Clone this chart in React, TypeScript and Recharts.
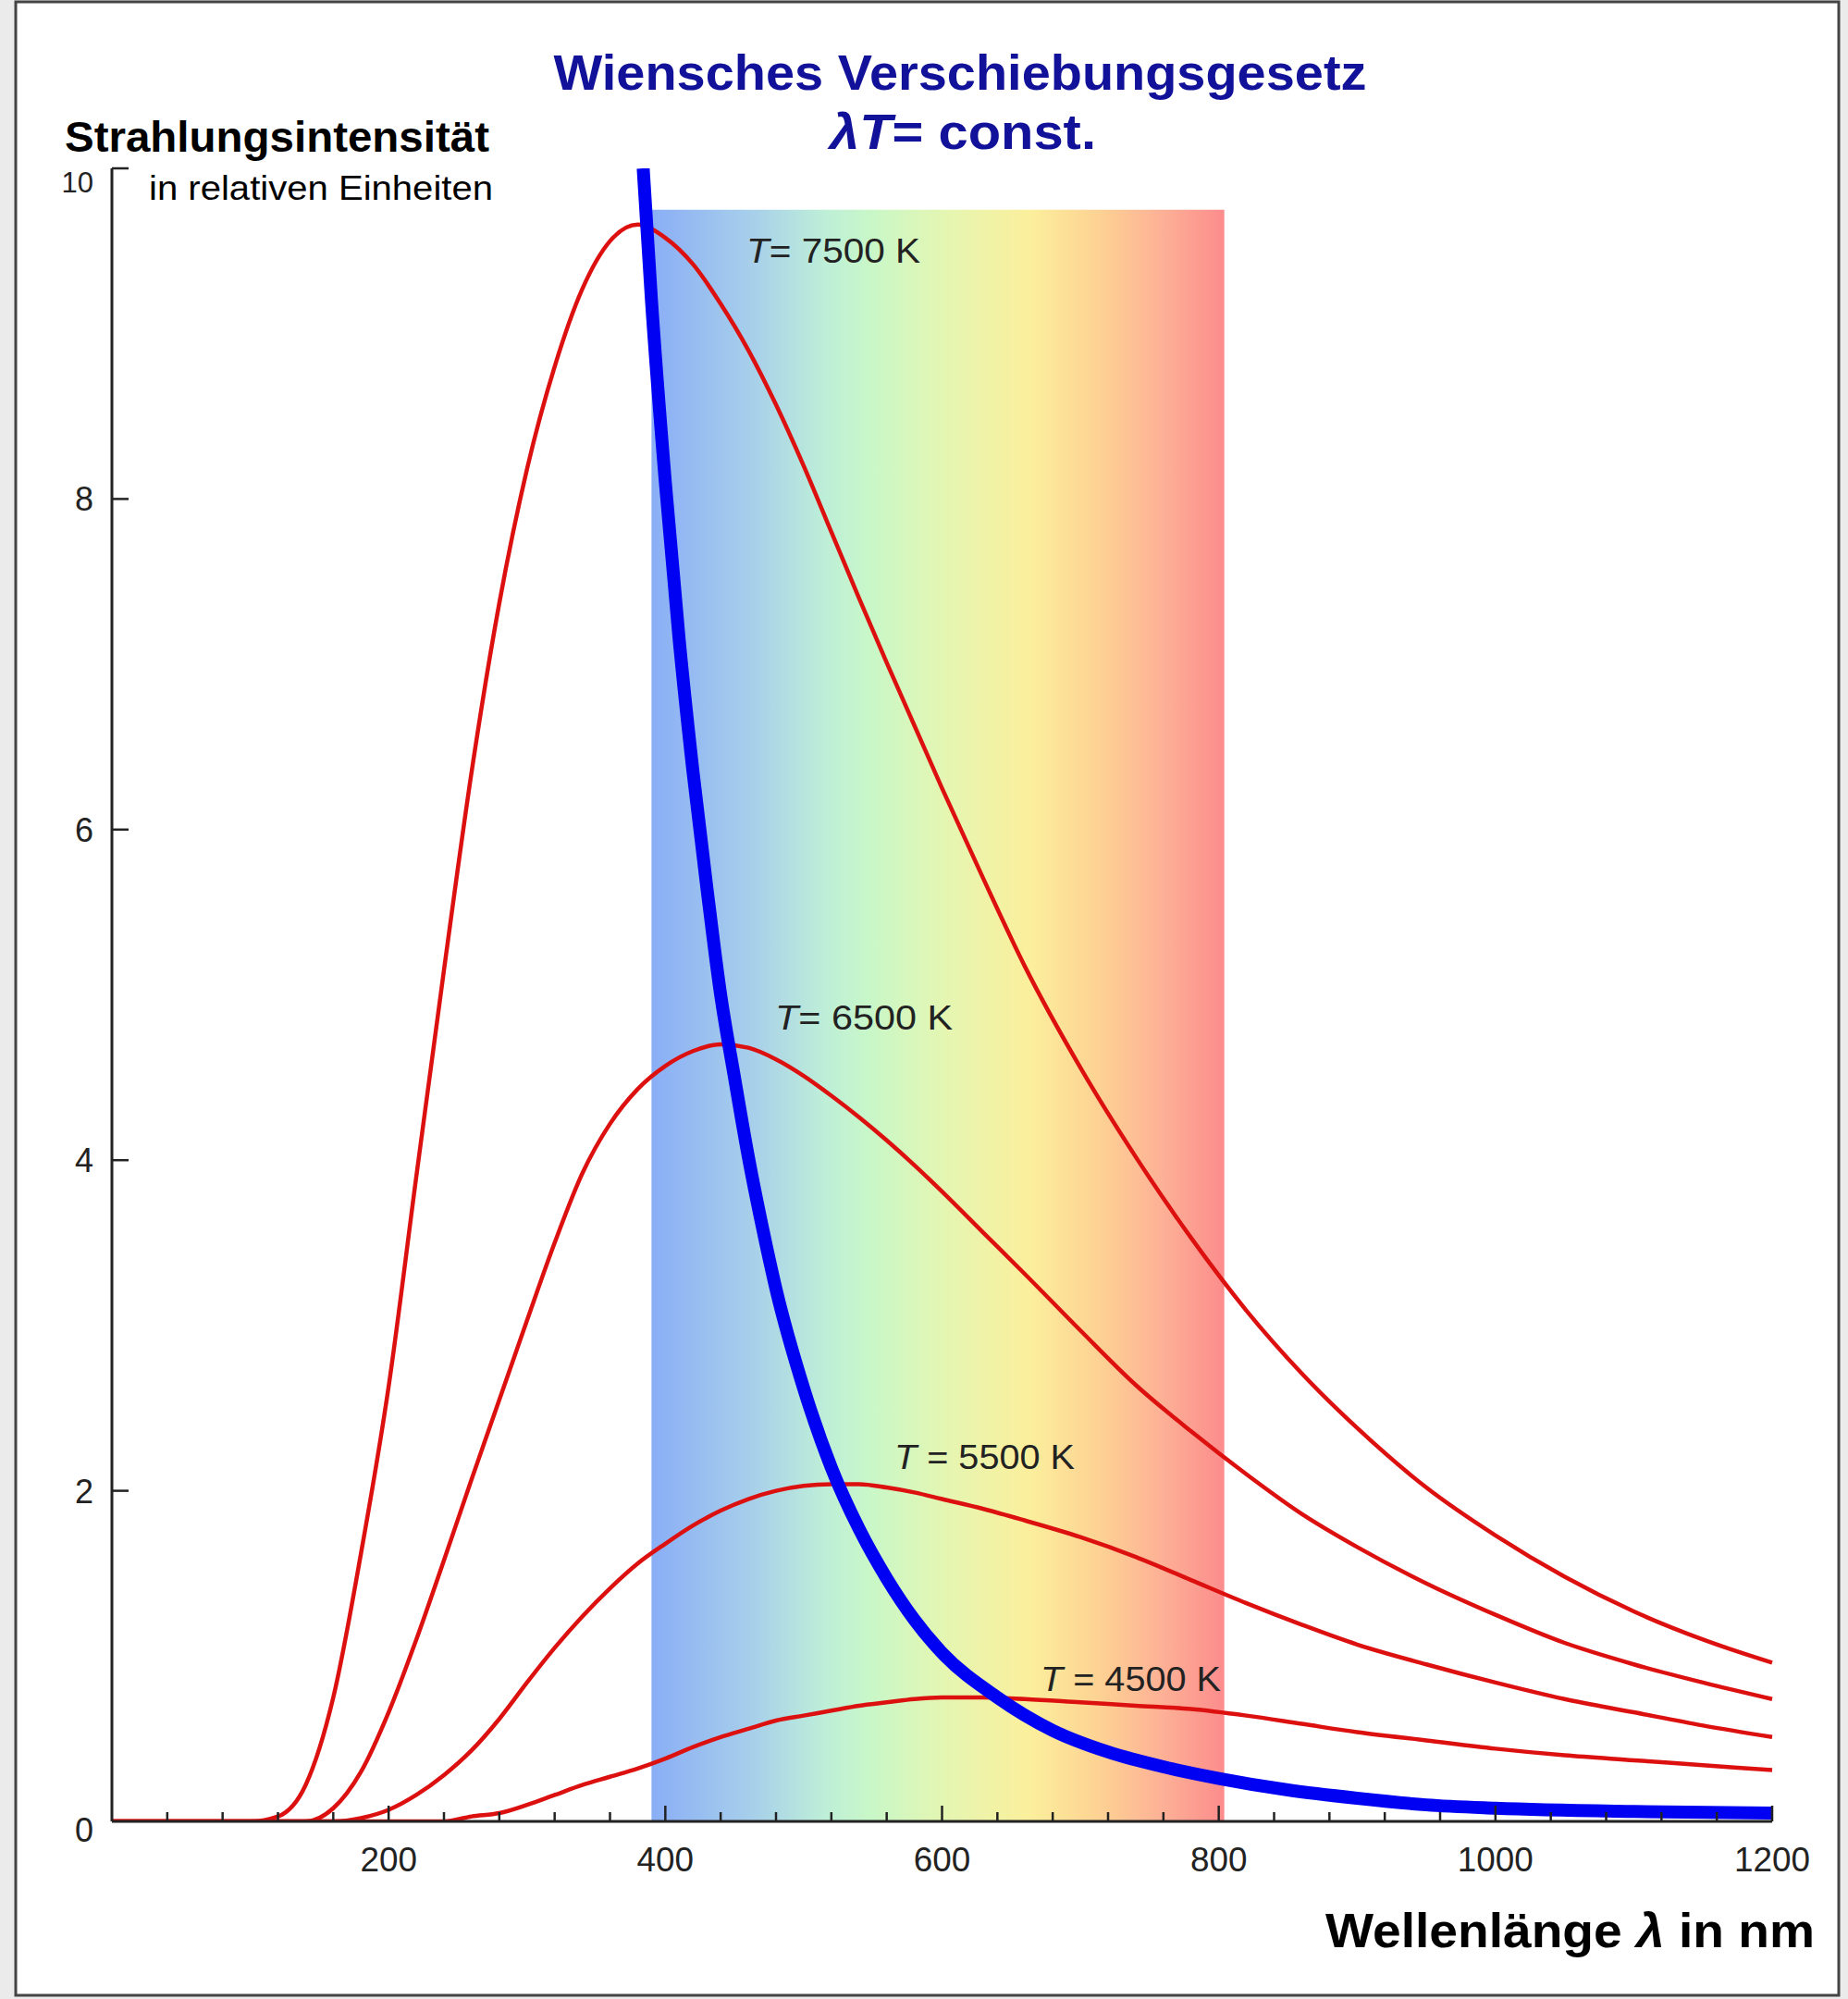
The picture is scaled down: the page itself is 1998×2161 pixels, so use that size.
import { ComposedChart, Line, Area, XAxis, YAxis } from 'recharts';

// wavelength grid (nm) shared by the four Planck curves
const lambdaRed = [0, 100, 120, 140, 160, 180, 200, 220, 240, 260, 280, 300, 320, 340, 360, 380, 400, 420, 440, 460, 480, 500, 520, 540, 560, 580, 600, 630, 660, 700, 740, 780, 820, 860, 900, 950, 1000, 1050, 1100, 1150, 1200];

// relative intensity
const t7500 = [0, 0, 0.03, 0.22, 0.75, 1.62, 2.63, 3.90, 5.15, 6.35, 7.37, 8.18, 8.80, 9.27, 9.56, 9.66, 9.58, 9.42, 9.18, 8.90, 8.57, 8.20, 7.80, 7.40, 7.01, 6.63, 6.25, 5.70, 5.17, 4.56, 4.02, 3.53, 3.09, 2.71, 2.38, 2.02, 1.73, 1.48, 1.27, 1.10, 0.96];
const t6500 = [0, 0, 0, 0, 0.08, 0.30, 0.66, 1.10, 1.58, 2.07, 2.55, 3.03, 3.50, 3.92, 4.22, 4.43, 4.57, 4.66, 4.70, 4.68, 4.61, 4.51, 4.39, 4.26, 4.12, 3.97, 3.81, 3.56, 3.31, 2.97, 2.64, 2.36, 2.10, 1.86, 1.66, 1.44, 1.25, 1.08, 0.95, 0.84, 0.74];
const t5500 = [0, 0, 0, 0, 0, 0.02, 0.07, 0.16, 0.28, 0.43, 0.62, 0.84, 1.05, 1.24, 1.41, 1.56, 1.68, 1.79, 1.88, 1.95, 2.00, 2.03, 2.04, 2.04, 2.02, 1.99, 1.95, 1.89, 1.82, 1.72, 1.60, 1.46, 1.32, 1.19, 1.07, 0.95, 0.84, 0.74, 0.66, 0.58, 0.51];
const t4500 = [0, 0, 0, 0, 0, 0, 0, 0, 0, 0.03, 0.05, 0.10, 0.16, 0.22, 0.27, 0.32, 0.38, 0.45, 0.51, 0.56, 0.61, 0.64, 0.67, 0.70, 0.72, 0.74, 0.75, 0.75, 0.74, 0.72, 0.70, 0.68, 0.64, 0.59, 0.54, 0.49, 0.44, 0.40, 0.37, 0.34, 0.31];

// locus of the maxima (lambda * T = const)
const wienLambda = [384, 390, 400, 410, 420, 430, 440, 450, 460, 470, 480, 500, 520, 540, 560, 580, 600, 640, 680, 720, 760, 800, 850, 900, 950, 1000, 1100, 1200];
const wienPeak = [10.0, 9.2, 8.1, 7.15, 6.35, 5.65, 5.0, 4.5, 4.02, 3.6, 3.22, 2.62, 2.14, 1.77, 1.47, 1.22, 1.02, 0.75, 0.55, 0.42, 0.33, 0.26, 0.19, 0.14, 0.10, 0.08, 0.06, 0.05];

// visible band
const spectrumEdges = [390, 804];
const spectrumTop = 9.75;

const xTicks = [0, 40, 80, 120, 160, 200, 240, 280, 320, 360, 400, 440, 480, 520, 560, 600, 640, 680, 720, 760, 800, 840, 880, 920, 960, 1000, 1040, 1080, 1120, 1160, 1200];
const yTicks = [0, 2, 4, 6, 8, 10];

const spectrumStops: [string, string][] = [
  ['0%', '#8aaef6'], ['18%', '#a8d0ea'], ['30%', '#bdeed8'], ['38%', '#c8f7c8'],
  ['51%', '#e4f6b2'], ['66%', '#fbef9c'], ['78%', '#fdd293'], ['89%', '#fdb196'], ['100%', '#fc8c8c'],
];

const FONT = "'Liberation Sans', Arial, sans-serif";
const RED = '#dd1010';
const AXIS = '#222';

const toPoints = (xs: number[], ys: number[]) => xs.map((x, i) => ({ x, v: ys[i] }));

const curves = [
  { key: 't7500', data: toPoints(lambdaRed, t7500) },
  { key: 't6500', data: toPoints(lambdaRed, t6500) },
  { key: 't5500', data: toPoints(lambdaRed, t5500) },
  { key: 't4500', data: toPoints(lambdaRed, t4500) },
];
const wien = toPoints(wienLambda, wienPeak);
const spectrum = spectrumEdges.map(x => ({ x, v: spectrumTop }));

function XTick(props: any) {
  const { x, y, payload } = props;
  const v = payload.value;
  if (v === 0) return <g />;
  const major = v % 200 === 0;
  const label = String(v);
  return (
    <g>
      <line x1={x} x2={x} y1={y} y2={y - (major ? 17 : 10)} stroke={AXIS} strokeWidth={2.5} />
      {major && (
        <text x={x} y={y + 54} textAnchor="middle" fontSize={36} fill={AXIS} fontFamily={FONT}
          textLength={label.length * 20.5} lengthAdjust="spacingAndGlyphs">{label}</text>
      )}
    </g>
  );
}

function YTick(props: any) {
  const { x, y, payload } = props;
  const v = payload.value;
  const shift = v === 10 ? 15 : v === 0 ? 9 : 0;
  return (
    <g>
      {v !== 0 && <line x1={x} x2={x + 18} y1={y} y2={y} stroke={AXIS} strokeWidth={2.5} />}
      <text x={x - 20} y={y + shift} dy="0.36em" textAnchor="end" fontSize={v === 10 ? 31 : 36}
        fill={AXIS} fontFamily={FONT}>{v}</text>
    </g>
  );
}

export default function App() {
  return (
    <div style={{ position: 'absolute', left: 0, top: 0, width: 1998, height: 2161, background: '#ebebeb' }}>
      <svg width={1998} height={2161} style={{ position: 'absolute', left: 0, top: 0 }}>
        <rect x={17} y={2} width={1971} height={2155} fill="#fff" stroke="#444" strokeWidth={3} />
      </svg>

      <div style={{ position: 'absolute', left: 0, top: 0 }}>
        <ComposedChart width={1998} height={2161} margin={{ top: 182, right: 82, bottom: 132, left: 61 }}>
          <defs>
            <linearGradient id="spectrum" x1="0" y1="0" x2="1" y2="0">
              {spectrumStops.map(([o, c]) => <stop key={o} offset={o} stopColor={c} />)}
            </linearGradient>
          </defs>
          <XAxis dataKey="x" type="number" domain={[0, 1200]} ticks={xTicks} interval={0}
            height={60} tickSize={0} tickMargin={0} tickLine={false}
            axisLine={{ stroke: AXIS, strokeWidth: 3 }} tick={(p: any) => <XTick {...p} />} />
          <YAxis type="number" domain={[0, 10]} ticks={yTicks} interval={0} allowDataOverflow
            width={60} tickSize={0} tickMargin={0} tickLine={false}
            axisLine={{ stroke: AXIS, strokeWidth: 3 }} tick={(p: any) => <YTick {...p} />} />
          <Area data={spectrum} dataKey="v" type="linear" stroke="none" fill="url(#spectrum)"
            fillOpacity={1} isAnimationActive={false} />
          {curves.map(c => (
            <Line key={c.key} data={c.data} dataKey="v" type="monotone" stroke={RED}
              strokeWidth={4.5} dot={false} activeDot={false} isAnimationActive={false} />
          ))}
          <Line data={wien} dataKey="v" type="monotone" stroke="#0000f2" strokeWidth={14}
            dot={false} activeDot={false} isAnimationActive={false} />
        </ComposedChart>
      </div>

      <svg width={1998} height={2161} style={{ position: 'absolute', left: 0, top: 0, pointerEvents: 'none' }}
        fontFamily={FONT}>
        <text x={1038} y={97} textAnchor="middle" fontSize={54} fontWeight="bold" fill="#111199"
          textLength={879} lengthAdjust="spacingAndGlyphs">Wiensches Verschiebungsgesetz</text>
        <text x={1041} y={161} textAnchor="middle" fontSize={54} fontWeight="bold" fill="#111199"
          textLength={288} lengthAdjust="spacingAndGlyphs">
          <tspan fontStyle="italic">λT</tspan>= const.
        </text>
        <text x={70} y={164} fontSize={46} fontWeight="bold" fill="#000"
          textLength={459} lengthAdjust="spacingAndGlyphs">Strahlungsintensität</text>
        <text x={161} y={216} fontSize={36} fill="#000"
          textLength={372} lengthAdjust="spacingAndGlyphs">in relativen Einheiten</text>
        <text x={1433} y={2105} fontSize={52} fontWeight="bold" fill="#000"
          textLength={529} lengthAdjust="spacingAndGlyphs">
          Wellenlänge <tspan fontStyle="italic">λ</tspan> in nm
        </text>
        <text x={807} y={284} fontSize={36} fill="#222" textLength={188} lengthAdjust="spacingAndGlyphs">
          <tspan fontStyle="italic">T</tspan>= 7500 K
        </text>
        <text x={838} y={1113} fontSize={36} fill="#222" textLength={192} lengthAdjust="spacingAndGlyphs">
          <tspan fontStyle="italic">T</tspan>= 6500 K
        </text>
        <text x={967} y={1588} fontSize={36} fill="#222" textLength={195} lengthAdjust="spacingAndGlyphs">
          <tspan fontStyle="italic">T</tspan> = 5500 K
        </text>
        <text x={1125} y={1828} fontSize={36} fill="#222" textLength={195} lengthAdjust="spacingAndGlyphs">
          <tspan fontStyle="italic">T</tspan> = 4500 K
        </text>
      </svg>
    </div>
  );
}
